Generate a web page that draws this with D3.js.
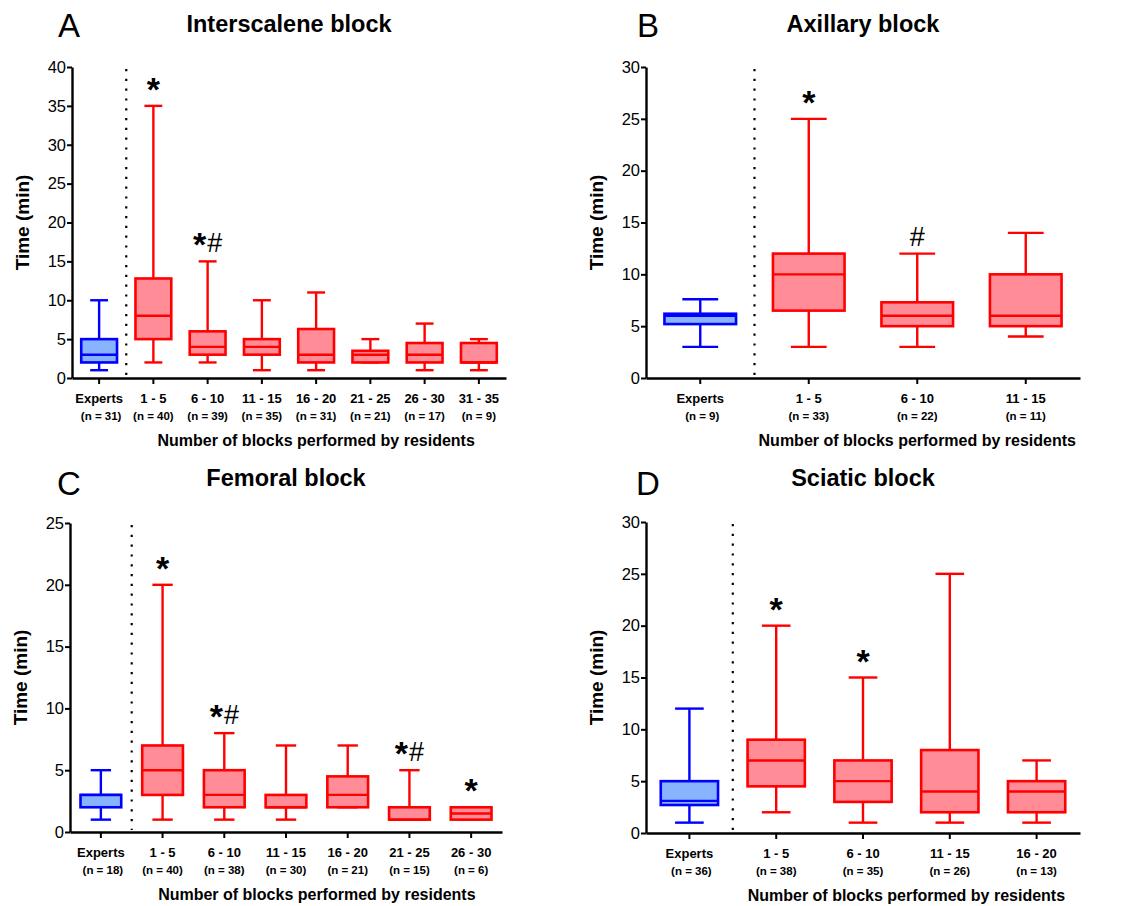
<!DOCTYPE html>
<html>
<head>
<meta charset="utf-8">
<script src="https://cdn.jsdelivr.net/npm/d3@7"></script>
<style>
  body { margin: 0; background: #fff; }
  text { font-family: "Liberation Sans", Arial, sans-serif; fill: #000; }
</style>
</head>
<body>
<svg id="chart" width="1121" height="906"></svg>
<script>
// ---- data : [min, q1, median, q3, max] ----
const interscaleneGroups = ["Experts", "1 - 5", "6 - 10", "11 - 15", "16 - 20", "21 - 25", "26 - 30", "31 - 35"];
const interscaleneN = [31, 40, 39, 35, 31, 21, 17, 9];
const interscaleneStats = [
  [1, 2, 3, 5, 10], [2, 5, 8, 12.8, 35], [2, 3, 4, 6, 15], [1, 3, 4, 5, 10],
  [1, 2, 3, 6.3, 11], [2, 2, 3, 3.5, 5], [1, 2, 3, 4.5, 7], [1, 2, 2, 4.5, 5]
];
const interscaleneMarks = ["", "*", "*#", "", "", "", "", ""];

const axillaryGroups = ["Experts", "1 - 5", "6 - 10", "11 - 15"];
const axillaryN = [9, 33, 22, 11];
const axillaryStats = [[3, 5.2, 6, 6.2, 7.6], [3, 6.5, 10, 12, 25], [3, 5, 6, 7.3, 12], [4, 5, 6, 10, 14]];
const axillaryMarks = ["", "*", "#", ""];

const femoralGroups = ["Experts", "1 - 5", "6 - 10", "11 - 15", "16 - 20", "21 - 25", "26 - 30"];
const femoralN = [18, 40, 38, 30, 21, 15, 6];
const femoralStats = [
  [1, 2, 3, 3, 5], [1, 3, 5, 7, 20], [1, 2, 3, 5, 8], [1, 2, 2, 3, 7],
  [2, 2, 3, 4.5, 7], [1, 1, 1, 2, 5], [1, 1, 1.5, 2, 2]
];
const femoralMarks = ["", "*", "*#", "", "", "*#", "*"];

const sciaticGroups = ["Experts", "1 - 5", "6 - 10", "11 - 15", "16 - 20"];
const sciaticN = [36, 38, 35, 26, 13];
const sciaticStats = [[1, 2.7, 3.1, 5, 12], [2, 4.5, 7, 9, 20], [1, 3, 5, 7, 15], [1, 2, 4, 8, 25], [1, 2, 4, 5, 7]];
const sciaticMarks = ["", "*", "*", "", ""];

const panels = [
  { letter: "A", title: "Interscalene block", groups: interscaleneGroups, n: interscaleneN, stats: interscaleneStats, marks: interscaleneMarks, yMax: 40,
    left: 72, right: 506, top: 67, bottom: 378, letterX: 58, letterY: 37, titleY: 32 },
  { letter: "B", title: "Axillary block", groups: axillaryGroups, n: axillaryN, stats: axillaryStats, marks: axillaryMarks, yMax: 30,
    left: 646, right: 1080, top: 67, bottom: 378, letterX: 637, letterY: 37, titleY: 32 },
  { letter: "C", title: "Femoral block", groups: femoralGroups, n: femoralN, stats: femoralStats, marks: femoralMarks, yMax: 25,
    left: 70, right: 502, top: 523, bottom: 832, letterX: 57, letterY: 495, titleY: 486 },
  { letter: "D", title: "Sciatic block", groups: sciaticGroups, n: sciaticN, stats: sciaticStats, marks: sciaticMarks, yMax: 30,
    left: 646, right: 1080, top: 522, bottom: 833, letterX: 636, letterY: 495, titleY: 486 }
];

const blue = "#0000ff", blueFill = "#88b4ff";
const red = "#ff0000", redFill = "#ff8c96";

const svg = d3.select("#chart");

panels.forEach(function (p) {
  const g = svg.append("g");
  const x = d3.scaleBand().domain(p.groups).range([p.left, p.right]).padding(0);
  const y = d3.scaleLinear().domain([0, p.yMax]).range([p.bottom, p.top]);
  const bw = x.bandwidth() * 0.66;

  // panel letter and title
  g.append("text").attr("x", p.letterX).attr("y", p.letterY)
    .style("font-size", "33px").text(p.letter);
  g.append("text").attr("x", (p.left + p.right) / 2).attr("y", p.titleY)
    .attr("text-anchor", "middle").style("font-size", "23.5px").style("font-weight", "bold")
    .text(p.title);

  // separator between experts and residents
  const sepX = x(p.groups[1]);
  g.append("line").attr("x1", sepX).attr("x2", sepX)
    .attr("y1", p.top + 2).attr("y2", p.bottom - 2)
    .attr("stroke", "#000").attr("stroke-width", 2.2).attr("stroke-dasharray", "2.2,7.6");

  // boxes
  const boxes = g.selectAll(".box").data(p.groups.map((d, i) => ({ name: d, s: p.stats[i], mark: p.marks[i], i: i })))
    .enter().append("g").attr("class", "box");

  boxes.each(function (d) {
    const b = d3.select(this);
    const cx = x(d.name) + x.bandwidth() / 2;
    const stroke = d.i === 0 ? blue : red;
    const fill = d.i === 0 ? blueFill : redFill;
    const [mn, q1, md, q3, mx] = d.s;
    const sw = 2.4;
    // whiskers
    b.append("line").attr("x1", cx).attr("x2", cx).attr("y1", y(mx)).attr("y2", y(q3))
      .attr("stroke", stroke).attr("stroke-width", sw);
    b.append("line").attr("x1", cx).attr("x2", cx).attr("y1", y(q1)).attr("y2", y(mn))
      .attr("stroke", stroke).attr("stroke-width", sw);
    b.append("line").attr("x1", cx - bw / 4).attr("x2", cx + bw / 4).attr("y1", y(mx)).attr("y2", y(mx))
      .attr("stroke", stroke).attr("stroke-width", sw);
    b.append("line").attr("x1", cx - bw / 4).attr("x2", cx + bw / 4).attr("y1", y(mn)).attr("y2", y(mn))
      .attr("stroke", stroke).attr("stroke-width", sw);
    // box
    b.append("rect").attr("x", cx - bw / 2).attr("width", bw)
      .attr("y", y(q3)).attr("height", y(q1) - y(q3))
      .attr("fill", fill).attr("stroke", stroke).attr("stroke-width", 2.6);
    b.append("line").attr("x1", cx - bw / 2).attr("x2", cx + bw / 2).attr("y1", y(md)).attr("y2", y(md))
      .attr("stroke", stroke).attr("stroke-width", 2.4);

    // significance marks, centred about 19px above the top whisker
    if (d.mark) {
      const anchor = y(mx) - 19;
      const t = b.append("text").attr("x", cx).attr("y", anchor + 14).attr("text-anchor", "middle");
      d.mark.split("").forEach(function (c, k) {
        if (c === "*") {
          t.append("tspan").style("font-size", "34px").style("font-weight", "bold").text("*");
        } else {
          t.append("tspan").style("font-size", "27px")
            .attr("dy", k === 0 ? -3 : -4).attr("dx", k === 0 ? 0 : 1).text("#");
        }
      });
    }
  });

  // axes
  const yAxis = d3.axisLeft(y).tickValues(d3.range(0, p.yMax + 1, 5)).tickSize(5).tickSizeOuter(0).tickPadding(1);
  const ya = g.append("g").attr("transform", `translate(${p.left},0)`).call(yAxis);
  ya.select(".domain").attr("stroke-width", 2.4);
  ya.selectAll(".tick line").attr("stroke-width", 2);
  ya.selectAll(".tick text").style("font-size", "16.5px").attr("fill", "#000")
    .style("font-family", "'Liberation Sans', Arial, sans-serif");

  const xAxis = d3.axisBottom(x).tickSize(6).tickSizeOuter(0).tickFormat("");
  const xa = g.append("g").attr("transform", `translate(0,${p.bottom})`).call(xAxis);
  xa.select(".domain").attr("stroke-width", 2.4);
  xa.selectAll(".tick line").attr("stroke-width", 2);

  // category labels
  p.groups.forEach(function (name, i) {
    const cx = x(name) + x.bandwidth() / 2;
    g.append("text").attr("x", cx).attr("y", p.bottom + 25).attr("text-anchor", "middle")
      .style("font-size", "13px").style("font-weight", "bold").text(name);
    g.append("text").attr("x", cx + (i === 0 ? 2 : 0)).attr("y", p.bottom + 42).attr("text-anchor", "middle")
      .style("font-size", "11.5px").style("font-weight", "bold").text(`(n = ${p.n[i]})`);
  });

  // axis titles
  g.append("text").attr("x", (sepX + p.right) / 2).attr("y", p.bottom + 68).attr("text-anchor", "middle")
    .style("font-size", "16px").style("font-weight", "bold").text("Number of blocks performed by residents");
  g.append("text")
    .attr("transform", `translate(${p.left - 43},${(p.top + p.bottom) / 2}) rotate(-90)`)
    .attr("text-anchor", "middle").style("font-size", "19px").style("font-weight", "bold")
    .text("Time (min)");
});
</script>
</body>
</html>
